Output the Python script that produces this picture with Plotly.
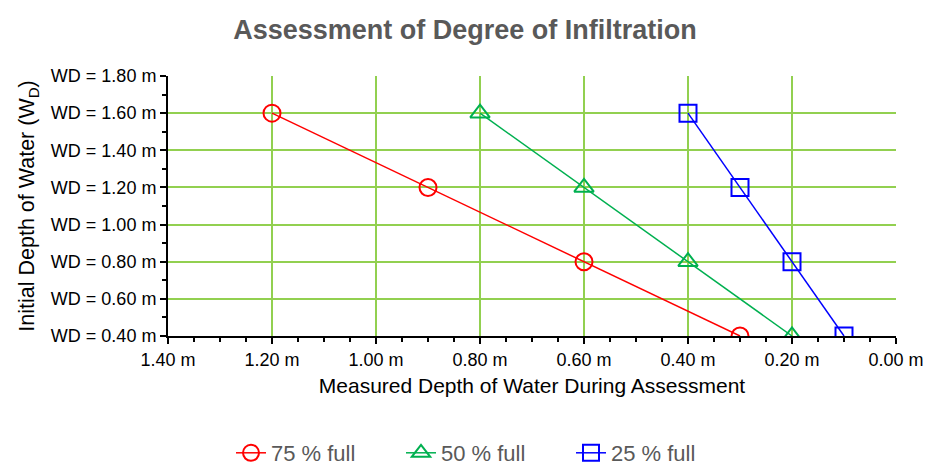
import plotly.graph_objects as go

# Initial water depth (m) for each test
initial_depth = [1.6, 1.2, 0.8, 0.4]

# Measured depth during assessment (m) per fill level
measured_75 = [1.2, 0.9, 0.6, 0.3]
measured_50 = [0.8, 0.6, 0.4, 0.2]
measured_25 = [0.4, 0.3, 0.2, 0.1]

series_names = ["75 % full", "50 % full", "25 % full"]
series_colors = ["#FF0000", "#00B050", "#0000FF"]
series_symbols = ["circle-open", "triangle-up-open", "square-open"]

x_tick_vals = [0.0, 0.2, 0.4, 0.6, 0.8, 1.0, 1.2, 1.4]
x_tick_text = ["%.2f m" % v for v in x_tick_vals]
y_tick_vals = [0.4, 0.6, 0.8, 1.0, 1.2, 1.4, 1.6, 1.8]
y_tick_text = ["WD = %.2f m" % v for v in y_tick_vals]

fig = go.Figure()
for name, xs, color, sym in zip(series_names, [measured_75, measured_50, measured_25],
                                series_colors, series_symbols):
    fig.add_trace(go.Scatter(
        x=xs, y=initial_depth, name=name, mode="lines+markers",
        line=dict(color=color, width=1.5),
        marker=dict(symbol=sym, size=17, color=color, line=dict(color=color, width=2)),
    ))

grid_color = "#92D050"
font_family = "Liberation Sans, Arial, sans-serif"
tick_font = dict(family=font_family, size=18, color="black")

fig.update_layout(
    width=930, height=472,
    margin=dict(l=168, r=34, t=76, b=136, autoexpand=False),
    paper_bgcolor="white", plot_bgcolor="white",
    font=dict(family=font_family, color="black", size=18),
    title=dict(text="<b>Assessment of Degree of Infiltration</b>",
               xref="container", x=0.5, xanchor="center",
               yref="container", y=1 - 30 / 472, yanchor="middle",
               font=dict(size=27, color="#595959", family=font_family)),
    showlegend=True,
    legend=dict(orientation="h", xref="container", x=486 / 930, xanchor="center",
                yref="container", y=1 - 453 / 472, yanchor="middle",
                font=dict(size=22, color="#595959", family=font_family),
                entrywidth=125, entrywidthmode="pixels",
                traceorder="normal"),
)

fig.update_xaxes(
    range=[1.4, 0.0], autorange=False,
    tickmode="array", tickvals=x_tick_vals, ticktext=x_tick_text,
    ticks="outside", ticklen=6, tickwidth=2, tickcolor="black",
    showline=True, linecolor="black", linewidth=2,
    showgrid=True, gridcolor=grid_color, gridwidth=2,
    zeroline=False,
    minor=dict(dtick=0.05, ticks="outside", ticklen=4, tickwidth=2, tickcolor="black", showgrid=False),
    tickfont=tick_font,
    title=dict(text="Measured Depth of Water During Assessment",
               font=dict(family=font_family, size=21, color="black"), standoff=10),
)

fig.update_yaxes(
    range=[0.4, 1.8], autorange=False,
    tickmode="array", tickvals=y_tick_vals, ticktext=y_tick_text,
    ticks="outside", ticklen=6, tickwidth=2, tickcolor="black",
    showline=True, linecolor="black", linewidth=2,
    showgrid=True, gridcolor=grid_color, gridwidth=2,
    zeroline=False,
    minor=dict(dtick=0.1, ticks="outside", ticklen=4, tickwidth=2, tickcolor="black", showgrid=False),
    tickfont=tick_font,
    title=dict(text="Initial Depth of Water (W<sub>D</sub>)",
               font=dict(family=font_family, size=21.5, color="black"), standoff=10),
)

fig.write_html("out.html")
